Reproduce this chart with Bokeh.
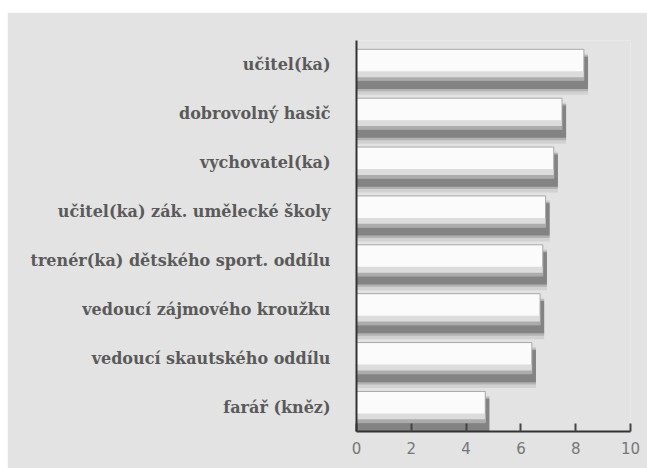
from bokeh.plotting import figure
from bokeh.embed import file_html
from bokeh.resources import INLINE
from bokeh.models import ColumnDataSource, FixedTicker, Spacer
from bokeh.layouts import column, row
from bokeh.transform import dodge

categories = [
    "farář (kněz)",
    "vedoucí skautského oddílu",
    "vedoucí zájmového kroužku",
    "trenér(ka) dětského sport. oddílu",
    "učitel(ka) zák. umělecké školy",
    "vychovatel(ka)",
    "dobrovolný hasič",
    "učitel(ka)",
]
values = [4.7, 6.4, 6.7, 6.8, 6.9, 7.2, 7.5, 8.3]
x_ticks = [0, 2, 4, 6, 8, 10]

BG = "#e3e3e3"
src = ColumnDataSource(dict(y=categories, v=values,
                            vs=[v + 0.15 for v in values]))

p = figure(width=640, height=456, y_range=categories, x_range=(0, 10),
           output_backend="svg", toolbar_location=None,
           background_fill_color=BG, border_fill_color=BG,
           min_border_left=349, min_border_right=17,
           min_border_top=28, min_border_bottom=37)
p.outline_line_color = None
p.y_range.range_padding = 0
p.xgrid.visible = False
p.ygrid.visible = False

# blurred shadow layers
for off, h, a in [(-0.19, 0.84, 0.10), (-0.17, 0.74, 0.20), (-0.16, 0.66, 0.38)]:
    p.hbar(y=dodge("y", off, range=p.y_range), left=0,
           right="vs", height=h, source=src,
           fill_color="#383838", fill_alpha=a, line_color=None)

# main bars
p.hbar(y="y", left=0, right="v", height=0.64, source=src,
       fill_color="#fbfbfb", line_color="#a8a8a8", line_width=1)
# lower shading of bars
p.hbar(y=dodge("y", -0.22, range=p.y_range), left=0, right="v", height=0.18,
       source=src, fill_color="#d4d4d4", fill_alpha=0.8, line_color=None)
p.hbar(y=dodge("y", -0.285, range=p.y_range), left=0, right="v", height=0.07,
       source=src, fill_color="#a0a0a0", fill_alpha=0.8, line_color=None)

# axes
p.xaxis.ticker = FixedTicker(ticks=x_ticks)
p.xaxis.axis_line_color = "#333333"
p.xaxis.axis_line_width = 2
p.xaxis.major_tick_in = 8
p.xaxis.major_tick_out = 0
p.xaxis.major_tick_line_color = "#444444"
p.xaxis.major_tick_line_width = 2
p.xaxis.minor_tick_line_color = None
p.xaxis.major_label_text_font = "DejaVu Sans"
p.xaxis.major_label_text_font_size = "15px"
p.xaxis.major_label_text_color = "#777777"
p.xaxis.major_label_standoff = 10

p.yaxis.axis_line_color = "#333333"
p.yaxis.axis_line_width = 2
p.yaxis.major_tick_in = 0
p.yaxis.major_tick_out = 0
p.yaxis.major_label_text_font = "DejaVu Serif"
p.yaxis.major_label_text_font_style = "bold"
p.yaxis.major_label_text_font_size = "16px"
p.yaxis.major_label_text_color = "#5a5a5a"
p.yaxis.major_label_standoff = 26

layout = column(Spacer(height=12), row(Spacer(width=7), p))
open("out.html", "w").write(file_html(layout, INLINE))
